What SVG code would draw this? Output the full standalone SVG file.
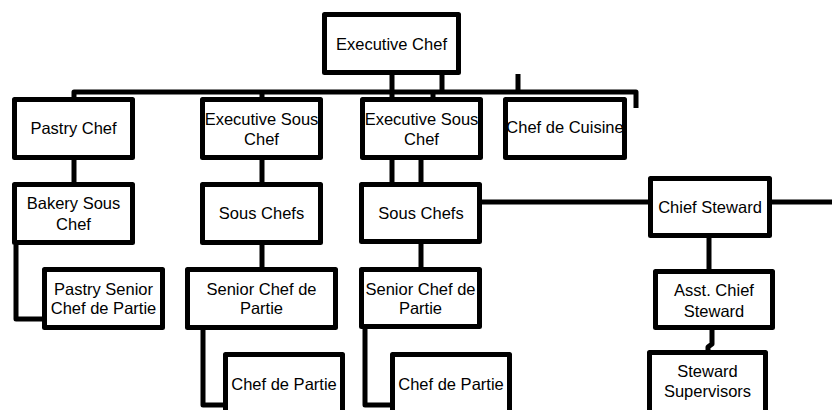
<svg xmlns="http://www.w3.org/2000/svg" width="832" height="410" viewBox="0 0 832 410">
<style>
.box{fill:#fff;stroke:#000;stroke-width:5;stroke-linejoin:round}
.ln{fill:none;stroke:#000;stroke-width:5;stroke-linejoin:round}
text{font-family:"Liberation Sans",Arial,sans-serif;font-size:16.5px;fill:#000;text-anchor:middle}
</style>
<rect width="832" height="410" fill="#fff"/>
<g id="connectors">
<path class="ln" d="M392,75V97M442,75V92"/>
<path class="ln" d="M74,99V92H636V108M518,74V92M262,92V99M433,92V99"/>
<path class="ln" d="M74,160V184"/>
<path class="ln" d="M16,245V319H44"/>
<path class="ln" d="M262,160V184M262,245V269"/>
<path class="ln" d="M203,330V405H225"/>
<path class="ln" d="M392,160V184M421,160V184M421,244V269"/>
<path class="ln" d="M365,329V405H392"/>
<path class="ln" d="M482,202H650M772,202H832"/>
<path class="ln" d="M709,238V271"/>
<path class="ln" d="M712,330V344L708,347V352"/>
</g>
<g id="executive-chef"><rect class="box" x="324.5" y="14.5" width="134" height="58"/><text x="391.5" y="50">Executive Chef</text></g>
<g id="pastry-chef"><rect class="box" x="14.5" y="99.5" width="118" height="58"/><text x="73.5" y="134">Pastry Chef</text></g>
<g id="exec-sous-chef-1"><rect class="box" x="202.5" y="99.5" width="118" height="58"/><text x="261.5" y="125">Executive Sous</text><text x="261.5" y="145">Chef</text></g>
<g id="exec-sous-chef-2"><rect class="box" x="362.5" y="99.5" width="118" height="58"/><text x="421.5" y="125">Executive Sous</text><text x="421.5" y="145">Chef</text></g>
<g id="chef-de-cuisine"><rect class="box" x="505.5" y="99.5" width="119" height="58"/><text x="565" y="133">Chef de Cuisine</text></g>
<g id="bakery-sous-chef"><rect class="box" x="14.5" y="184.5" width="118" height="58"/><text x="73.5" y="209">Bakery Sous</text><text x="73.5" y="230">Chef</text></g>
<g id="sous-chefs-1"><rect class="box" x="202.5" y="184.5" width="118" height="58"/><text x="261.5" y="219">Sous Chefs</text></g>
<g id="sous-chefs-2"><rect class="box" x="361.5" y="184.5" width="118" height="57"/><text x="421" y="219">Sous Chefs</text></g>
<g id="pastry-senior"><rect class="box" x="44.5" y="269.5" width="118" height="58"/><text x="103.5" y="295">Pastry Senior</text><text x="103.5" y="314">Chef de Partie</text></g>
<g id="senior-cdp-1"><rect class="box" x="187.5" y="269.5" width="148" height="58"/><text x="261.5" y="295">Senior Chef de</text><text x="261.5" y="314">Partie</text></g>
<g id="senior-cdp-2"><rect class="box" x="361.5" y="269.5" width="118" height="57"/><text x="420.5" y="295">Senior Chef de</text><text x="420.5" y="314">Partie</text></g>
<g id="chef-de-partie-1"><rect class="box" x="225.5" y="354.5" width="117" height="70"/><text x="284" y="390">Chef de Partie</text></g>
<g id="chef-de-partie-2"><rect class="box" x="392.5" y="354.5" width="117" height="70"/><text x="451" y="390">Chef de Partie</text></g>
<g id="chief-steward"><rect class="box" x="650.5" y="178.5" width="119" height="57"/><text x="710" y="213">Chief Steward</text></g>
<g id="asst-chief-steward"><rect class="box" x="655.5" y="271.5" width="117" height="56"/><text x="714" y="296">Asst. Chief</text><text x="714" y="317">Steward</text></g>
<g id="steward-supervisors"><rect class="box" x="649.5" y="352.5" width="116" height="70"/><text x="707.5" y="377">Steward</text><text x="707.5" y="397">Supervisors</text></g>
</svg>
